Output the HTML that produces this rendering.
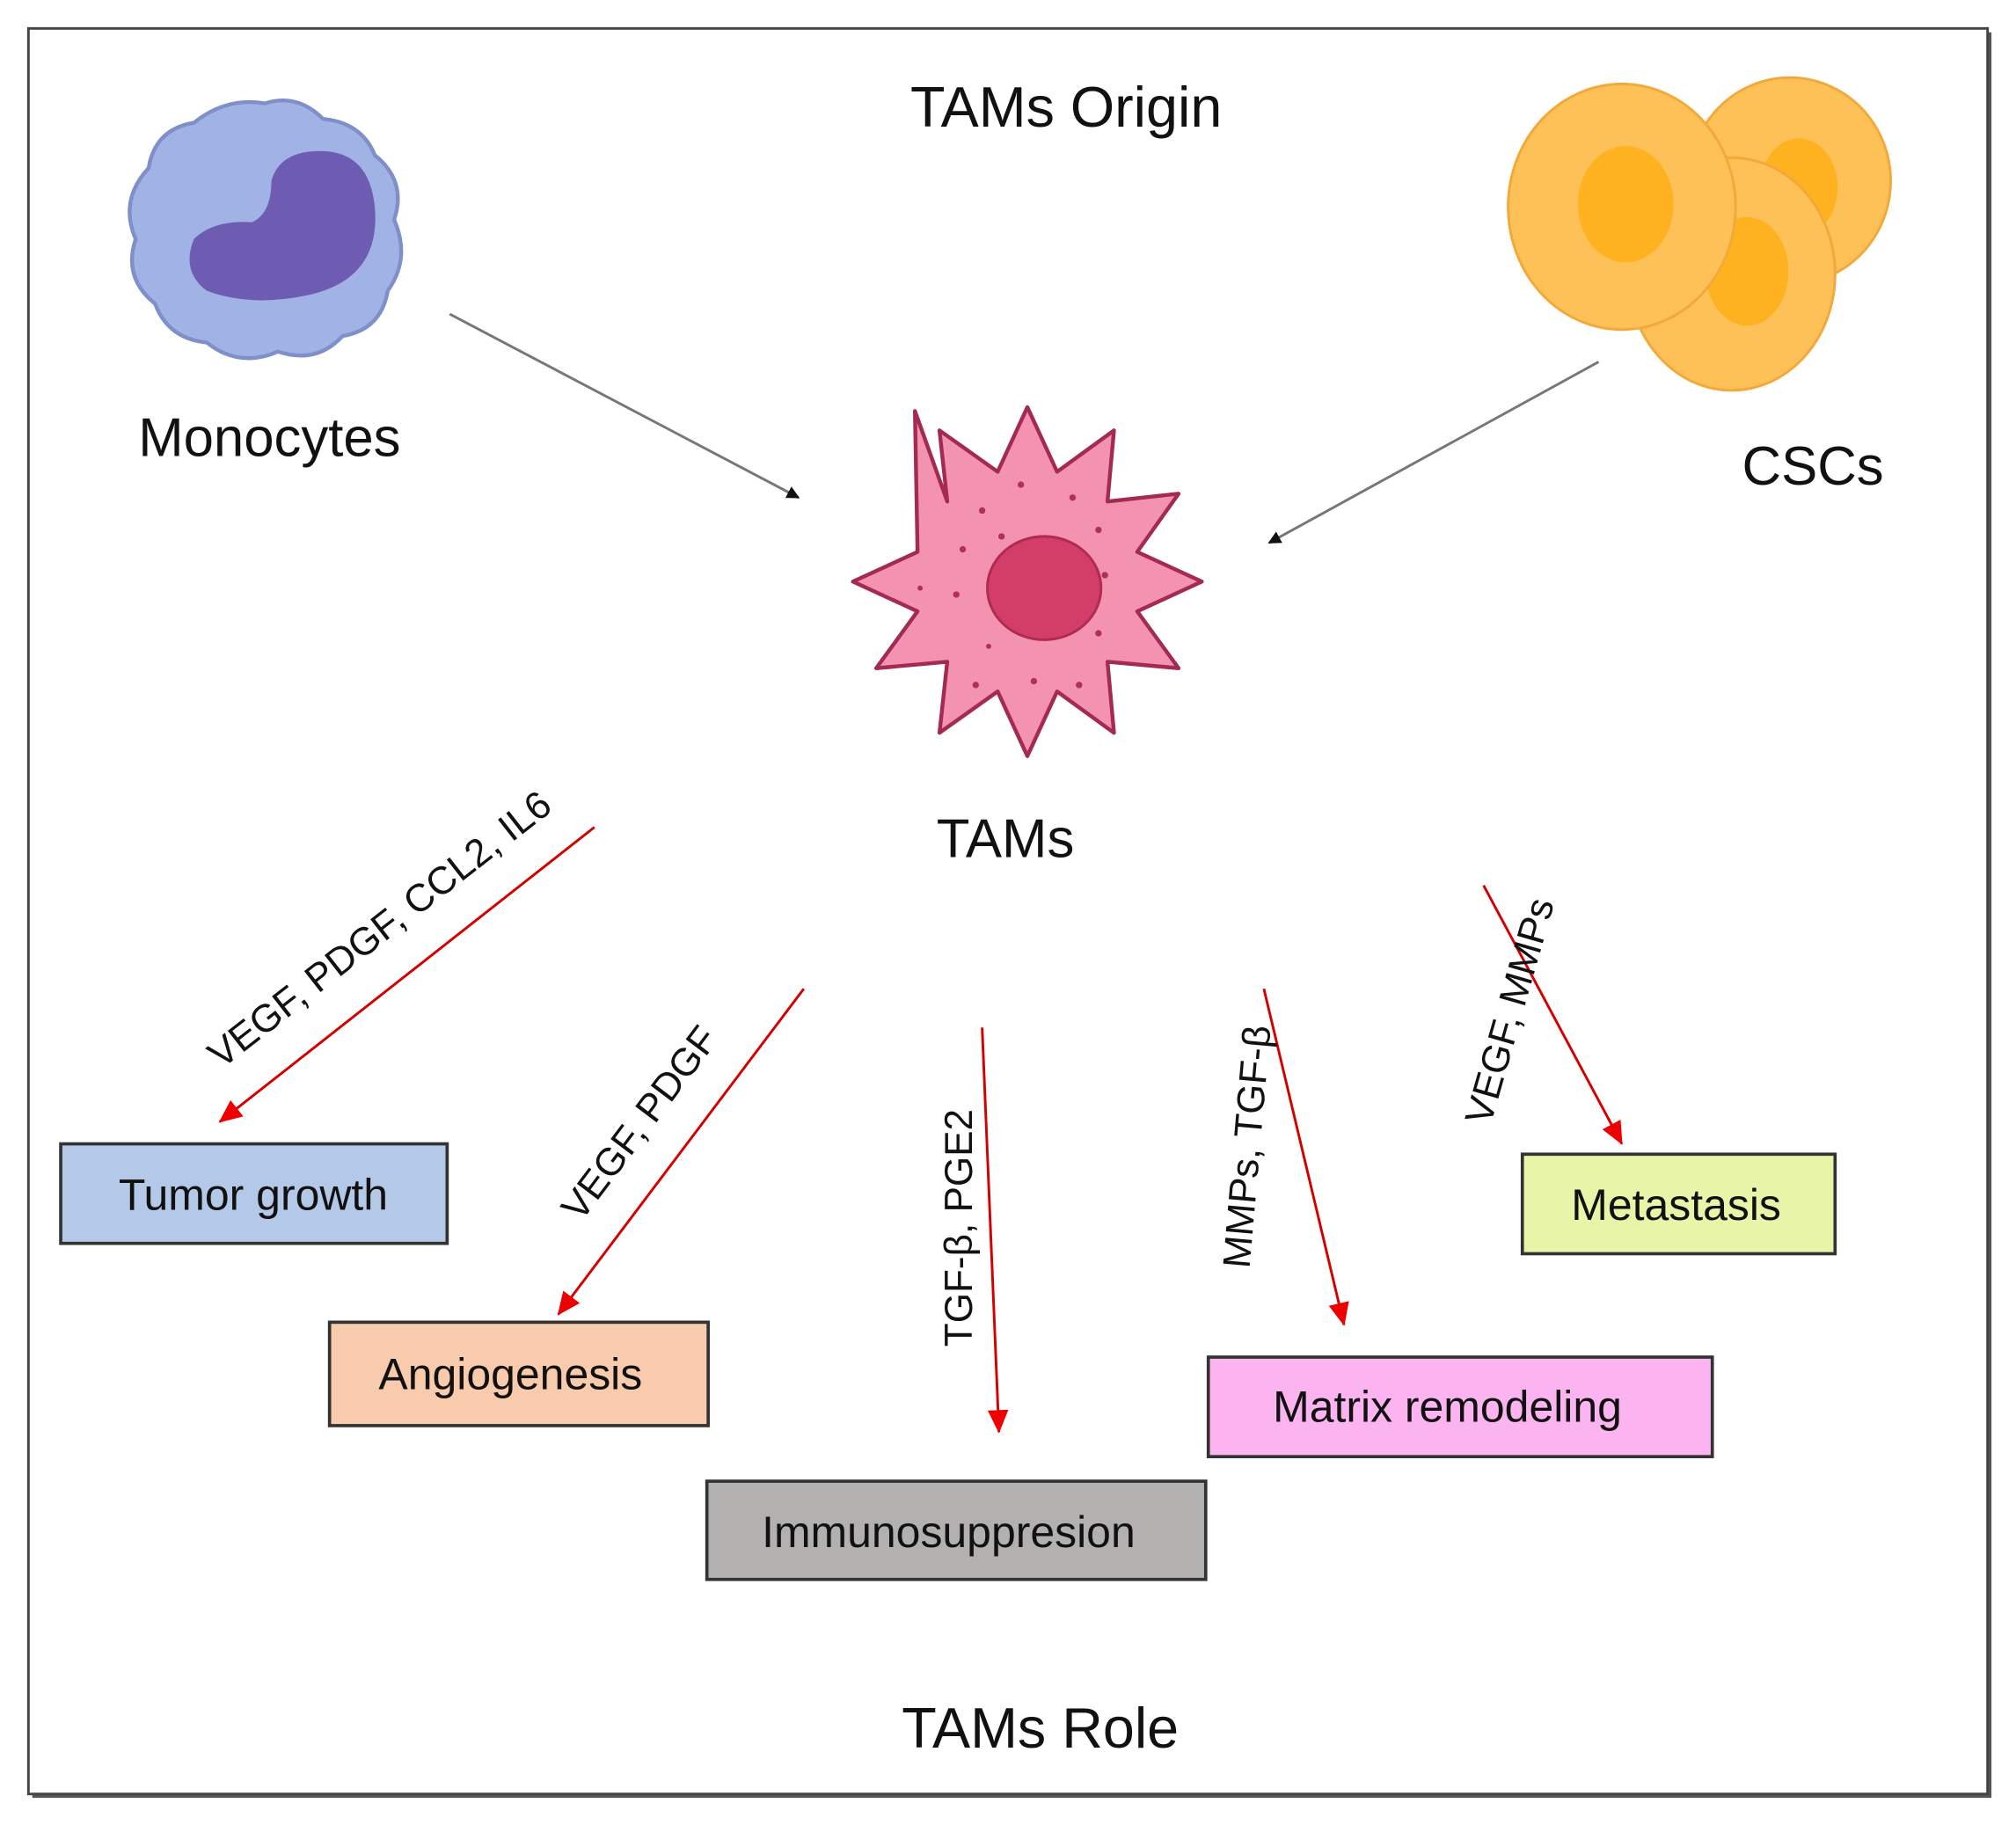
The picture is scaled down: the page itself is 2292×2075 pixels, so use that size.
<!DOCTYPE html>
<html><head><meta charset="utf-8"><style>
html,body{margin:0;padding:0;background:#fff}
svg{display:block}
text{font-family:"Liberation Sans",sans-serif;fill:#111}
</style></head><body>
<svg width="2292" height="2075" viewBox="0 0 1560 1412" preserveAspectRatio="none" xmlns="http://www.w3.org/2000/svg">
<defs>
<marker id="ag" markerWidth="10" markerHeight="10" refX="9" refY="5" orient="auto" markerUnits="userSpaceOnUse"><path d="M0,0 L10,5 L0,10 z" fill="#111"/></marker>
<marker id="ar" markerWidth="18" markerHeight="16" refX="17" refY="8" orient="auto" markerUnits="userSpaceOnUse"><path d="M0,0 L18,8 L0,16 z" fill="#e00"/></marker>
</defs>
<rect x="25" y="25" width="1516" height="1366" fill="#555"/>
<rect x="22" y="22" width="1516" height="1366" fill="#fff" stroke="#444" stroke-width="2"/>
<text x="825" y="98" font-size="44" text-anchor="middle">TAMs Origin</text>
<!-- monocyte -->
<path d="M205,80 Q230,72 250,92 Q280,95 290,120 Q315,140 305,170 Q318,200 300,225 Q295,255 265,260 Q245,282 215,272 Q185,285 160,265 Q130,262 120,235 Q95,215 105,185 Q92,155 115,130 Q120,100 150,95 Q175,75 205,80 z" fill="#a1b3e4" stroke="#7f90c8" stroke-width="3"/>
<path d="M235,118 Q285,110 290,160 Q295,215 240,228 Q195,238 160,225 Q140,210 150,185 Q165,170 195,172 Q210,165 210,140 Q215,122 235,118 z" fill="#6e5bb2"/>
<text x="107" y="353" font-size="42">Monocytes</text>
<!-- CSCs -->
<ellipse cx="1385" cy="140" rx="78" ry="80" fill="#fdc157" stroke="#f2a93a" stroke-width="2"/>
<ellipse cx="1392" cy="145" rx="30" ry="38" fill="#ffb21f"/>
<ellipse cx="1340" cy="212" rx="80" ry="90" fill="#fdc157" stroke="#f2a93a" stroke-width="2"/>
<ellipse cx="1352" cy="210" rx="32" ry="42" fill="#ffb21f"/>
<ellipse cx="1255" cy="160" rx="88" ry="95" fill="#fdc157" stroke="#f2a93a" stroke-width="2"/>
<ellipse cx="1258" cy="158" rx="37" ry="45" fill="#ffb21f"/>
<text x="1348" y="375" font-size="42">CSCs</text>
<!-- gray arrows -->
<line x1="348" y1="243" x2="618" y2="385" stroke="#777" stroke-width="2" marker-end="url(#ag)"/>
<line x1="1237" y1="280" x2="982" y2="420" stroke="#777" stroke-width="2" marker-end="url(#ag)"/>
<!-- TAM -->
<path d="M930,450 L880,427 L912,382 L857,388 L862,333 L818,365 L795,315 L772,365 L727,333 L733,388 L708,318 L710,427 L660,450 L710,473 L678,517 L733,512 L727,567 L772,535 L795,585 L818,535 L862,567 L857,512 L912,517 L880,473 z" fill="#f393b0" stroke="#a32a50" stroke-width="3" stroke-linejoin="round"/>
<ellipse cx="808" cy="455" rx="44" ry="40" fill="#d23e68" stroke="#b02a52" stroke-width="2"/>
<g fill="#b0305a">
<circle cx="760" cy="395" r="2.5"/><circle cx="790" cy="375" r="2.5"/><circle cx="830" cy="385" r="2.5"/><circle cx="745" cy="425" r="2.5"/><circle cx="775" cy="415" r="2.5"/><circle cx="740" cy="460" r="2.5"/><circle cx="855" cy="445" r="2.5"/><circle cx="850" cy="410" r="2.5"/><circle cx="755" cy="530" r="2.5"/><circle cx="800" cy="527" r="2.5"/><circle cx="835" cy="530" r="2.5"/><circle cx="850" cy="490" r="2.5"/><circle cx="712" cy="455" r="2"/><circle cx="765" cy="500" r="2"/>
</g>
<text x="778" y="663" font-size="42" text-anchor="middle">TAMs</text>
<!-- red arrows -->
<g stroke="#d40000" stroke-width="2" fill="none">
<line x1="460" y1="640" x2="170" y2="868" marker-end="url(#ar)"/>
<line x1="622" y1="765" x2="432" y2="1017" marker-end="url(#ar)"/>
<line x1="760" y1="795" x2="773" y2="1108" marker-end="url(#ar)"/>
<line x1="978" y1="765" x2="1040" y2="1025" marker-end="url(#ar)"/>
<line x1="1148" y1="685" x2="1255" y2="885" marker-end="url(#ar)"/>
</g>
<g font-size="30">
<text transform="translate(300,727) rotate(-38)" text-anchor="middle">VEGF, PDGF, CCL2, IL6</text>
<text transform="translate(503,875) rotate(-53)" text-anchor="middle">VEGF, PDGF</text>
<text transform="translate(752,950) rotate(-90)" text-anchor="middle">TGF-β, PGE2</text>
<text transform="translate(975,888) rotate(-85)" text-anchor="middle">MMPs, TGF-β</text>
<text transform="translate(1178,785) rotate(-74)" text-anchor="middle">VEGF, MMPs</text>
</g>
<!-- boxes -->
<g stroke="#333" stroke-width="2.5">
<rect x="47" y="885" width="299" height="77" fill="#b4c8e8"/>
<rect x="255" y="1023" width="293" height="80" fill="#f9cbad"/>
<rect x="547" y="1146" width="386" height="76" fill="#b3b0b0"/>
<rect x="935" y="1050" width="390" height="77" fill="#fbb4ef"/>
<rect x="1178" y="893" width="242" height="77" fill="#e8f4a8"/>
</g>
<g font-size="34" text-anchor="middle">
<text x="196" y="936">Tumor growth</text>
<text x="395" y="1075">Angiogenesis</text>
<text x="734" y="1197">Immunosuppresion</text>
<text x="1120" y="1100">Matrix remodeling</text>
<text x="1297" y="944">Metastasis</text>
</g>
<text x="805" y="1352" font-size="44" text-anchor="middle">TAMs Role</text>
</svg>
</body></html>
